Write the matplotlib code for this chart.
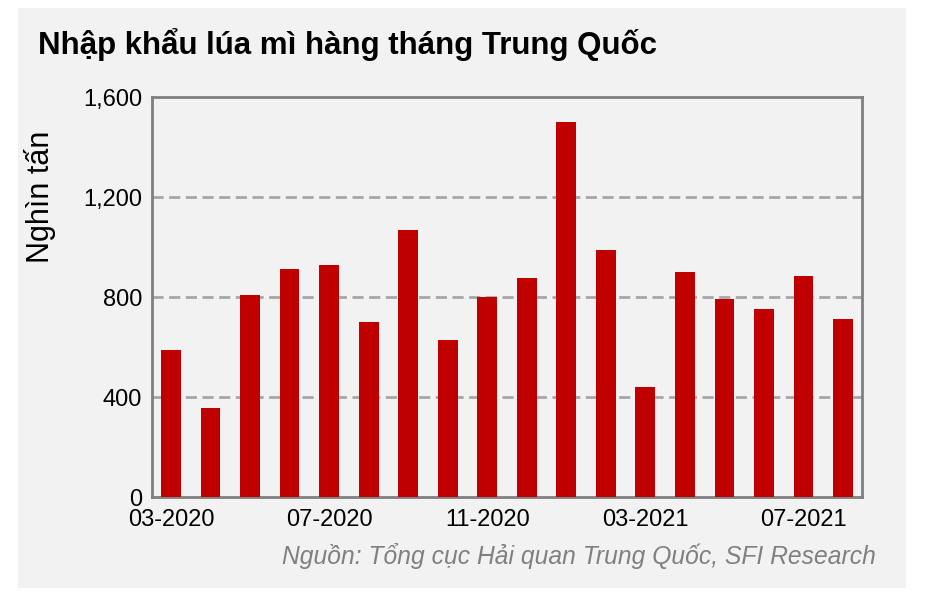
import matplotlib.pyplot as plt
from matplotlib.patches import Rectangle

# Data
months = ["03-2020", "04-2020", "05-2020", "06-2020", "07-2020", "08-2020",
          "09-2020", "10-2020", "11-2020", "12-2020", "01-2021", "02-2021",
          "03-2021", "04-2021", "05-2021", "06-2021", "07-2021", "08-2021"]
imports = [588, 356, 808, 912, 928, 700, 1068, 628, 800, 876,
           1500, 988, 440, 900, 792, 752, 884, 712]
yticks = [0, 400, 800, 1200, 1600]

fig = plt.figure(figsize=(9.26, 6), dpi=100)
fig.patch.set_facecolor("white")
fig.patches.append(Rectangle((18 / 926, 12 / 600), 888 / 926, 580 / 600,
                             transform=fig.transFigure, facecolor="#f2f2f2",
                             edgecolor="none", zorder=-10))

ax = fig.add_axes([152 / 926, 103 / 600, 710 / 926, 400 / 600])
ax.set_zorder(5)
ax.set_facecolor("#f2f2f2")
x = range(len(months))
ax.bar(x, imports, width=0.5, color="#c00000", zorder=3)

ax.set_ylim(0, 1600)
ax.set_xlim(-0.48, len(months) - 0.52)
ax.set_yticks(yticks)
ax.set_yticklabels([f"{v:,}" for v in yticks], fontsize=17, family="Liberation Sans")
for v in yticks[1:-1]:
    ax.axhline(v, color="#a6a6a6", linestyle=(0, (4, 2)), linewidth=2, zorder=1)
ax.set_xticks(list(x)[::4])
ax.set_xticklabels(months[::4], fontsize=17, family="Liberation Sans")
ax.tick_params(axis="y", length=0, pad=7)
ax.tick_params(axis="x", length=0, pad=9)
for s in ax.spines.values():
    s.set_color("#7f7f7f")
    s.set_linewidth(2)

ax.set_ylabel("Nghìn tấn", fontsize=22, family="Liberation Sans")
ax.yaxis.set_label_coords(-0.135, 0.75)
fig.text(38 / 926, 1 - 45 / 600, "Nhập khẩu lúa mì hàng tháng Trung Quốc",
         fontsize=22.5, fontweight="bold", family="Liberation Sans", va="center")
fig.text(876 / 926, 1 - 556 / 600, "Nguồn: Tổng cục Hải quan Trung Quốc, SFI Research",
         fontsize=17.7, style="italic", color="#808080", family="Liberation Sans",
         ha="right", va="center")

fig.savefig("out.png", dpi=100)
